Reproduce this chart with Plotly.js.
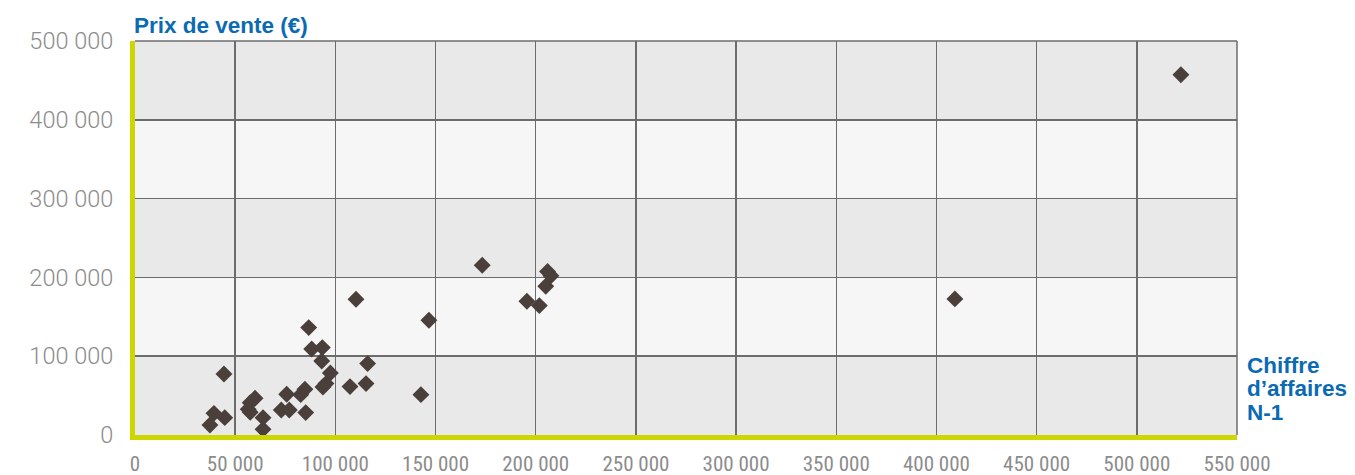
<!DOCTYPE html>
<html>
<head>
<meta charset="utf-8">
<script src="https://cdn.plot.ly/plotly-3.0.1.min.js"></script>
<style>html,body{margin:0;padding:0;background:#fff;}#chart{width:1355px;height:475px;}</style>
</head>
<body>
<div id="chart"></div>
<script>
// Chiffre d'affaires N-1 (x) and Prix de vente (y), in euros
const chiffreAffaires = [110300, 146700, 86700, 88200, 93500, 93200, 116100, 44400, 97500, 95300,
  93800, 107300, 115300, 142700, 84800, 82700, 75700, 59900, 57500, 56500,
  57500, 73000, 77000, 85200, 63900, 63900, 39400, 44800, 37400, 173300,
  205900, 207600, 205000, 195600, 201800, 409200, 522000];
const prixVente = [172300, 145700, 136300, 109200, 110900, 94000, 90600, 77500, 78700, 65200,
  61000, 61400, 65200, 51200, 58000, 51200, 51700, 46600, 41000, 32600,
  28800, 31700, 31700, 28400, 22000, 7200, 27500, 22000, 12700, 215500,
  207400, 202000, 188800, 169800, 164200, 172700, 457200];

const xTickVals = [0, 50000, 100000, 150000, 200000, 250000, 300000, 350000, 400000, 450000, 500000, 550000];
const xTickText = ['0', '50 000', '100 000', '150 000', '200 000', '250 000', '300 000', '350 000', '400 000', '450 000', '500 000', '550 000'];
const yTickVals = [0, 100000, 200000, 300000, 400000, 500000];
const yTickText = ['0', '100 000', '200 000', '300 000', '400 000', '500 000'];

const yTitle = 'Prix de vente (€)';
const xTitleLines = ['Chiffre', 'd’affaires', 'N-1'];

const trace = {
  x: chiffreAffaires, y: prixVente, type: 'scatter', mode: 'markers',
  marker: {symbol: 'diamond', size: 13, color: '#4a3f3a'},
  hoverinfo: 'x+y'
};

const bands = [[100000, 200000], [300000, 400000]].map(b => ({
  type: 'rect', xref: 'paper', yref: 'y', x0: 0, x1: 1, y0: b[0], y1: b[1],
  fillcolor: '#f6f6f6', line: {width: 0}, layer: 'below'
}));

const titleFont = {family: 'Liberation Sans, Arial, sans-serif', size: 22.5, color: '#0a6ab4', weight: 'bold'};

const layout = {
  width: 1355, height: 475,
  margin: {l: 135, r: 118, t: 41, b: 40},
  paper_bgcolor: '#ffffff', plot_bgcolor: '#e9e9e9',
  showlegend: false,
  font: {family: 'Roboto, Liberation Sans, sans-serif', color: '#8c8c8c'},
  xaxis: {
    range: [0, 550000], tickvals: xTickVals, ticktext: xTickText,
    showgrid: true, gridcolor: '#6c6c6c', gridwidth: 1.5, zeroline: false,
    showline: true, linecolor: '#cdd600', linewidth: 5,
    ticks: '', ticklabelstandoff: 6,
    tickfont: {family: 'Liberation Sans Narrow, Roboto Condensed, sans-serif', size: 21, color: '#8c8c8c'}
  },
  yaxis: {
    range: [0, 500000], tickvals: yTickVals, ticktext: yTickText,
    showgrid: true, gridcolor: '#6c6c6c', gridwidth: 1.5, zeroline: false,
    showline: true, linecolor: '#cdd600', linewidth: 5,
    ticks: '', ticklabelstandoff: 12,
    tickfont: {family: 'Roboto, sans-serif', size: 23.5, color: '#8c8c8c', weight: 300}
  },
  shapes: bands.concat([
    {type: 'line', xref: 'paper', yref: 'paper', x0: 0, x1: 1, y0: 1, y1: 1, line: {color: '#6c6c6c', width: 1.5}},
    {type: 'line', xref: 'paper', yref: 'paper', x0: 1, x1: 1, y0: 0, y1: 1, line: {color: '#6c6c6c', width: 1.5}}
  ]),
  annotations: [
    {text: yTitle, xref: 'paper', yref: 'paper', x: 0, y: 1, xanchor: 'left', yanchor: 'middle', xshift: -3, yshift: 16,
     showarrow: false, font: titleFont}
  ].concat(xTitleLines.map((t, i) => ({
    text: t, xref: 'paper', yref: 'paper', x: 1, y: 0, xanchor: 'left', yanchor: 'middle',
    xshift: 8, yshift: 70 - i * 23.5, showarrow: false, font: titleFont
  })))
};

Plotly.newPlot('chart', [trace], layout, {displayModeBar: false, staticPlot: true});
</script>
</body>
</html>
